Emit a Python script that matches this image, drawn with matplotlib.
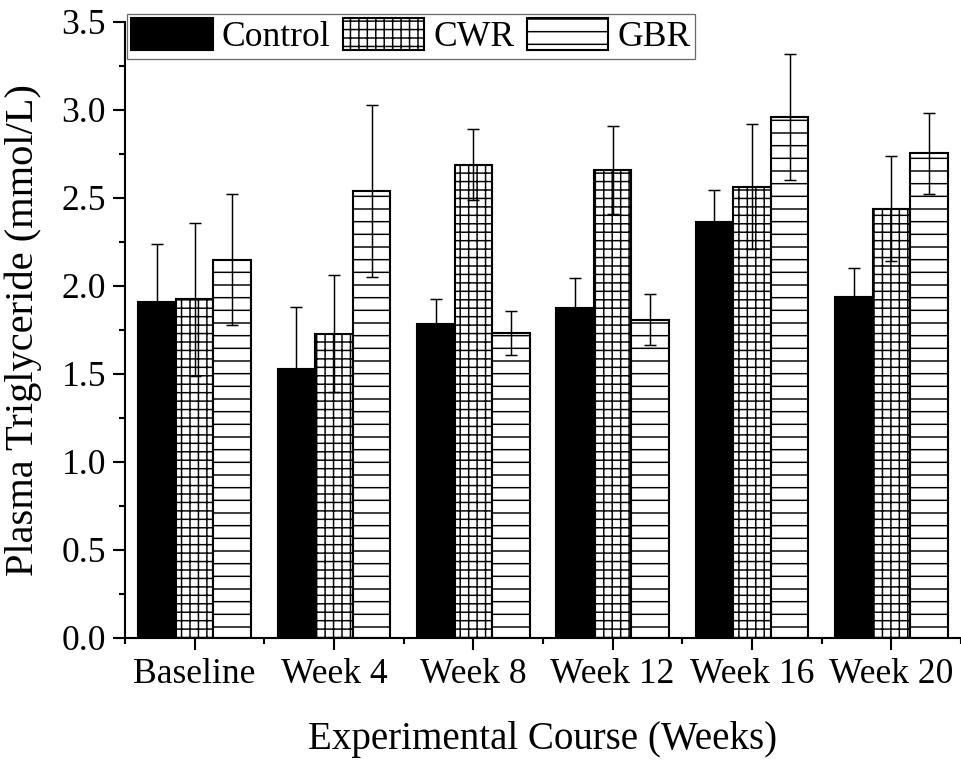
import numpy as np
import matplotlib
matplotlib.use("Agg")
import matplotlib.pyplot as plt
from matplotlib.ticker import MultipleLocator, FormatStrFormatter

# data (mmol/L)
weeks = ["Baseline", "Week 4", "Week 8", "Week 12", "Week 16", "Week 20"]
control = [1.91, 1.53, 1.785, 1.877, 2.366, 1.94]
control_err = [0.33, 0.35, 0.14, 0.17, 0.18, 0.16]
cwr = [1.925, 1.73, 2.69, 2.66, 2.565, 2.44]
cwr_err = [0.435, 0.33, 0.20, 0.25, 0.355, 0.30]
gbr = [2.15, 2.54, 1.735, 1.807, 2.96, 2.755]
gbr_err = [0.37, 0.49, 0.125, 0.145, 0.36, 0.23]

DPI = 152
plt.rcParams["font.family"] = ["Liberation Serif", "DejaVu Serif"]
plt.rcParams["hatch.linewidth"] = 0.7
plt.rcParams["axes.linewidth"] = 1.0

fig = plt.figure(figsize=(961 / DPI, 760 / DPI), dpi=DPI)
ax = fig.add_axes([125 / 961, 1 - 638 / 760, 1 - 125 / 961, (638 - 22) / 760])

x = np.arange(1, len(weeks) + 1)
w = 0.27

series = [
    ("Control", control, control_err, dict(color="black", edgecolor="black")),
    ("CWR", cwr, cwr_err, dict(color="white", edgecolor="black", hatch="+++")),
    ("GBR", gbr, gbr_err, dict(color="white", edgecolor="black", hatch="--")),
]

for i, (name, vals, errs, style) in enumerate(series):
    pos = x + (i - 1) * w
    ax.bar(pos, vals, width=w, linewidth=1.0, label=name, zorder=2, **style)
    ax.errorbar(pos, vals, yerr=errs, fmt="none", ecolor="black",
                elinewidth=0.7, capsize=3, capthick=0.7, zorder=3)

ax.set_xlim(0.5, 6.5)
ax.set_ylim(0, 3.5)
ax.set_xticks(x)
ax.set_xticklabels(weeks)
ax.xaxis.set_minor_locator(MultipleLocator(1, offset=0.5))
ax.yaxis.set_major_locator(MultipleLocator(0.5))
ax.yaxis.set_minor_locator(MultipleLocator(0.25))
ax.yaxis.set_major_formatter(FormatStrFormatter("%.1f"))

ax.tick_params(axis="both", which="major", direction="out", length=5.5,
               width=1.0, labelsize=16.8)
ax.tick_params(axis="both", which="minor", direction="out", length=3,
               width=1.0)
ax.tick_params(axis="x", which="major", pad=4)
ax.spines["top"].set_visible(False)
ax.spines["right"].set_visible(False)

ax.set_xlabel("Experimental Course (Weeks)", fontsize=18.5, labelpad=14)
ax.set_ylabel("Plasma Triglyceride (mmol/L)", fontsize=19.2, labelpad=9)

leg = ax.legend(loc="upper left", bbox_to_anchor=(127 / 961, 1 - 14 / 760),
                bbox_transform=fig.transFigure, ncol=3, fontsize=16.8,
                frameon=True, fancybox=False, borderaxespad=0,
                handlelength=2.3, handleheight=1.0, handletextpad=0.25,
                columnspacing=0.35, borderpad=0.12)
leg.get_frame().set_edgecolor("#444444")
leg.get_frame().set_linewidth(0.6)

fig.savefig("out.png", dpi=DPI)
